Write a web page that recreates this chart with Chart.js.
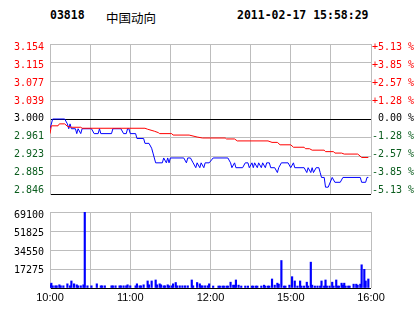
<!DOCTYPE html>
<html>
<head>
<meta charset="utf-8">
<script src="https://cdn.jsdelivr.net/npm/chart.js@4.4.0/dist/chart.umd.min.js"></script>
<style>
  html, body { margin: 0; padding: 0; background: #fff; }
  #wrap { position: relative; width: 414px; height: 314px; overflow: hidden; }
  canvas { position: absolute; left: 0; }
  .t { position: absolute; top: 8px; line-height: 16px; white-space: nowrap; color: #000; }
</style>
</head>
<body>
<div id="wrap">
  <div class="t" id="code" style="left:50px;font:bold 11.5px 'DejaVu Sans Mono'"></div>
  <div class="t" id="name" style="left:106px;font:12.5px 'Noto Sans CJK SC'"></div>
  <div class="t" id="stamp" style="left:237px;font:bold 11.5px 'DejaVu Sans Mono'"></div>
  <canvas id="price" width="414" height="206" style="top:0"></canvas>
  <canvas id="vol" width="414" height="114" style="top:200px"></canvas>
</div>
<script>
const stockCode = "03818";
const stockName = "中国动向";
const timeStamp = "2011-02-17 15:58:29";

// minutes since 10:00 (lunch break removed, 240 trading minutes)
const tickMinutes = [0, 30, 60, 90, 120, 150, 180, 210, 240];
const timeLabels = ["10:00", "", "11:00", "", "12:00", "", "15:00", "", "16:00"];

const priceMin = 2.846, priceMax = 3.154;
const priceTickLabels = ["2.846", "2.885", "2.923", "2.961", "3.000", "3.039", "3.077", "3.115", "3.154"];
const pctTickLabels = ["-5.13 %", "-3.85 %", "-2.57 %", "-1.28 %", " 0.00 %", "+1.28 %", "+2.57 %", "+3.85 %", "+5.13 %"];

const volMax = 69100;
const volTickValues = [0, 17275, 34550, 51825, 69100];
const volTickLabels = ["", "17275", "34550", "51825", "69100"];

// price (blue)
const priceMinutes = [0, 2, 11, 13, 14, 15, 16, 19, 20, 21, 23, 24, 31, 33, 36, 37, 38, 46, 47, 53, 55, 57, 58, 59, 60, 64, 65, 70, 71, 74, 76, 77, 78, 79, 84, 85, 87, 88, 89, 90, 100, 102, 103, 105, 107, 109, 110, 112, 113, 115, 116, 119, 122, 133, 135, 136, 138, 139, 144, 146, 148, 149, 151, 152, 153, 155, 156, 158, 159, 161, 162, 164, 165, 168, 170, 171, 173, 178, 180, 182, 183, 190, 192, 193, 195, 196, 197, 199, 201, 202, 203, 205, 206, 208, 211, 213, 217, 219, 232, 233, 236, 237, 238];
const prices = [2.98, 3.00, 3.00, 2.99, 2.98, 2.99, 2.98, 2.98, 2.97, 2.98, 2.97, 2.98, 2.98, 2.97, 2.97, 2.98, 2.97, 2.97, 2.98, 2.98, 2.97, 2.97, 2.98, 2.98, 2.97, 2.97, 2.96, 2.96, 2.95, 2.95, 2.94, 2.93, 2.92, 2.91, 2.91, 2.92, 2.91, 2.92, 2.91, 2.92, 2.92, 2.91, 2.92, 2.92, 2.91, 2.90, 2.91, 2.90, 2.91, 2.90, 2.91, 2.91, 2.92, 2.92, 2.91, 2.90, 2.91, 2.90, 2.90, 2.91, 2.91, 2.90, 2.91, 2.90, 2.91, 2.90, 2.91, 2.90, 2.91, 2.90, 2.91, 2.91, 2.90, 2.90, 2.89, 2.90, 2.91, 2.91, 2.90, 2.91, 2.90, 2.90, 2.89, 2.90, 2.89, 2.90, 2.89, 2.90, 2.90, 2.89, 2.88, 2.88, 2.86, 2.86, 2.88, 2.87, 2.87, 2.88, 2.88, 2.87, 2.87, 2.88, 2.88];

// average price (red)
const avgMinutes = [0, 1, 6, 7, 11, 13, 16, 23, 24, 71, 73, 78, 81, 82, 91, 92, 104, 110, 114, 131, 132, 138, 140, 163, 166, 170, 172, 180, 182, 190, 191, 194, 196, 205, 206, 212, 213, 218, 220, 230, 231, 233, 238];
const avgPrices = [2.970, 2.986, 2.986, 2.990, 2.990, 2.985, 2.983, 2.983, 2.981, 2.981, 2.979, 2.975, 2.972, 2.970, 2.970, 2.967, 2.967, 2.963, 2.961, 2.961, 2.959, 2.959, 2.955, 2.955, 2.952, 2.952, 2.947, 2.947, 2.942, 2.942, 2.939, 2.939, 2.936, 2.936, 2.933, 2.933, 2.930, 2.930, 2.928, 2.928, 2.926, 2.921, 2.921];

// volume
const volMinutes = [0, 1, 2, 4, 5, 7, 8, 10, 13, 15, 16, 18, 20, 21, 23, 25, 26, 28, 31, 35, 38, 39, 41, 46, 47, 49, 52, 53, 55, 57, 58, 60, 64, 65, 67, 68, 70, 73, 74, 76, 79, 80, 82, 83, 85, 86, 88, 89, 91, 92, 94, 95, 97, 99, 101, 103, 106, 107, 110, 112, 113, 114, 116, 118, 119, 122, 126, 127, 129, 130, 132, 133, 135, 137, 138, 139, 141, 143, 146, 148, 151, 152, 154, 155, 158, 160, 161, 163, 164, 166, 168, 170, 171, 173, 175, 176, 179, 181, 183, 185, 187, 188, 190, 192, 193, 195, 196, 198, 200, 202, 203, 205, 206, 207, 209, 211, 212, 214, 215, 216, 218, 219, 220, 221, 223, 224, 227, 229, 230, 232, 233, 235, 236, 238];
const volumes = [2900, 4400, 2000, 2000, 2000, 2900, 2000, 2000, 3800, 2000, 6400, 3800, 2900, 2000, 2000, 2900, 69100, 2000, 2000, 3800, 2000, 2000, 2000, 2000, 2000, 2000, 2000, 2000, 2000, 2000, 2900, 2000, 2000, 3800, 2000, 2000, 2900, 6400, 2900, 6400, 7300, 2900, 3800, 2900, 2000, 2000, 2900, 2000, 2000, 3800, 5000, 2000, 2000, 2000, 2000, 2000, 7300, 2000, 5000, 3800, 2000, 2000, 2000, 2000, 3800, 1800, 1800, 1800, 1800, 1800, 1800, 1800, 5300, 2600, 2600, 7300, 2600, 1800, 1800, 1800, 1800, 1800, 1800, 1800, 1800, 2600, 1800, 1800, 1800, 8200, 2600, 4400, 3500, 25000, 1800, 1800, 2600, 10300, 6400, 1800, 6400, 1800, 1800, 5300, 1800, 23500, 2600, 1800, 1800, 1800, 6400, 1800, 7300, 1800, 1800, 5300, 1800, 7300, 1800, 1800, 4400, 2600, 4400, 1800, 1800, 1800, 3500, 3500, 2600, 3500, 21100, 17000, 6400, 8200];

document.getElementById("code").textContent = stockCode;
document.getElementById("name").textContent = stockName;
document.getElementById("stamp").textContent = timeStamp;

const RED = "#ff0000", GREEN = "#0b5d1e", GRID = "#bdbdbd";

// labels sit a few pixels off their grid lines in the original, so they get their own axis
function shiftedRange(lo, hi, areaPx, topVal, topShift, botVal, botShift) {
  const pTop = (hi - topVal) / (hi - lo) * areaPx + topShift;
  const pBot = (hi - botVal) / (hi - lo) * areaPx + botShift;
  const k = (pBot - pTop) / (topVal - botVal);
  const max = topVal + pTop / k;
  return { min: max - areaPx / k, max: max };
}

const priceTickValues = priceTickLabels.map((_, i) => priceMin + i * (priceMax - priceMin) / 8);
const priceLabelRange = shiftedRange(priceMin, priceMax, 160, priceMax, 3.7, priceMin, -4);
const labelColor = (ctx) => ctx.index > 4 ? RED : (ctx.index === 4 ? "#000" : GREEN);

const setTicks = (values) => (scale) => { scale.ticks = values.map(v => ({ value: v })); };

new Chart(document.getElementById("price"), {
  type: "line",
  data: {
    datasets: [
      {
        data: avgMinutes.map((t, i) => ({ x: t, y: avgPrices[i] })),
        borderColor: RED, borderWidth: 1, pointRadius: 0, tension: 0,
      },
      {
        data: priceMinutes.map((t, i) => ({ x: t, y: prices[i] })),
        borderColor: "#0000ff", borderWidth: 1, pointRadius: 0, tension: 0,
      },
    ],
  },
  options: {
    responsive: false,
    animation: false,
    events: [],
    layout: { padding: { top: 44, bottom: 2, left: 0, right: 0 } },
    plugins: { legend: { display: false }, tooltip: { enabled: false } },
    scales: {
      x: {
        type: "linear", min: 0, max: 240,
        afterBuildTicks: setTicks(tickMinutes),
        ticks: { display: false },
        grid: { color: GRID, drawTicks: false },
        border: { display: false },
        afterFit: (s) => { s.height = 0; },
      },
      y: {
        min: priceMin, max: priceMax,
        afterBuildTicks: setTicks(priceTickValues),
        ticks: { display: false },
        grid: { color: (ctx) => (ctx.index === 0 || ctx.index === 4) ? "#000" : GRID, drawTicks: false },
        border: { color: GRID },
        afterFit: (s) => { s.width = 0; },
      },
      yl: {
        position: "left", weight: 1,
        min: priceLabelRange.min, max: priceLabelRange.max,
        afterBuildTicks: setTicks(priceTickValues),
        ticks: {
          autoSkip: false,
          callback: (v, i) => priceTickLabels[i],
          color: labelColor,
          font: { family: "DejaVu Sans Mono", size: 10 },
          padding: 6,
        },
        grid: { display: false, drawTicks: false },
        border: { display: false },
        afterFit: (s) => { s.width = 50; },
      },
      yr: {
        position: "right",
        min: priceLabelRange.min, max: priceLabelRange.max,
        afterBuildTicks: setTicks(priceTickValues),
        ticks: {
          autoSkip: false,
          callback: (v, i) => pctTickLabels[i],
          color: labelColor,
          font: { family: "DejaVu Sans Mono", size: 10 },
          padding: 1,
        },
        grid: { display: false, drawTicks: false },
        border: { display: false },
        afterFit: (s) => { s.width = 43; },
      },
    },
  },
});

const volLabelRange = shiftedRange(0, volMax, 78, volMax, 3, 17275, 1.8);

new Chart(document.getElementById("vol"), {
  type: "bar",
  data: {
    datasets: [{
      data: volMinutes.map((t, i) => ({ x: t, y: volumes[i] })),
      backgroundColor: "#0000ff",
      barThickness: 1.5,
    }],
  },
  options: {
    responsive: false,
    animation: false,
    events: [],
    layout: { padding: { top: 10, bottom: 6, left: 0, right: 43 } },
    plugins: { legend: { display: false }, tooltip: { enabled: false } },
    scales: {
      x: {
        type: "linear", min: 0, max: 240, offset: false,
        afterBuildTicks: setTicks(tickMinutes),
        ticks: {
          autoSkip: false, maxRotation: 0,
          callback: (v, i) => timeLabels[i],
          color: "#000",
          font: { family: "Liberation Sans", size: 11 },
          padding: 3,
        },
        grid: { color: GRID, drawTicks: false, offset: false },
        border: { display: false },
        afterFit: (s) => { s.height = 20; },
      },
      y: {
        min: 0, max: volMax,
        afterBuildTicks: setTicks(volTickValues),
        ticks: { display: false },
        grid: { color: (ctx) => ctx.index === 0 ? "#000" : GRID, drawTicks: false },
        border: { color: GRID },
        afterFit: (s) => { s.width = 0; },
      },
      yl: {
        position: "left", weight: 1,
        min: volLabelRange.min, max: volLabelRange.max,
        afterBuildTicks: setTicks(volTickValues.slice(1)),
        ticks: {
          autoSkip: false,
          callback: (v, i) => volTickLabels[i + 1],
          color: "#000",
          font: { family: "DejaVu Sans Mono", size: 10 },
          padding: 6,
        },
        grid: { display: false, drawTicks: false },
        border: { display: false },
        afterFit: (s) => { s.width = 50; },
      },
    },
  },
});
</script>
</body>
</html>
